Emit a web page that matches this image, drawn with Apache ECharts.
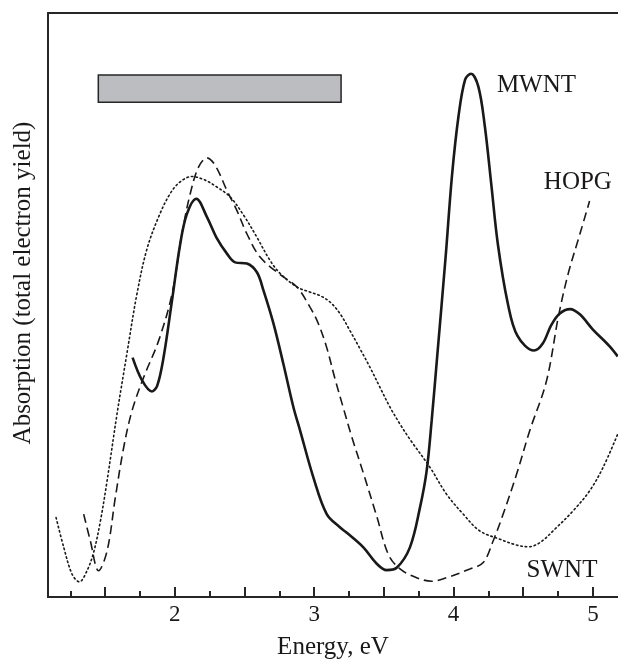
<!DOCTYPE html>
<html>
<head>
<meta charset="utf-8">
<script src="https://cdn.jsdelivr.net/npm/echarts@6/dist/echarts.min.js"></script>
<style>html,body{margin:0;padding:0;background:#fff}#c{width:618px;height:662px}</style>
</head>
<body>
<div id="c"></div>
<script>
// ---- data (Energy eV, absorption arbitrary units 0..100) ----
const mwntX = [1.697,1.767,1.836,1.874,1.919,1.980,2.039,2.087,2.154,2.230,2.302,2.374,2.433,2.517,2.589,2.636,2.708,2.779,2.851,2.899,2.994,3.090,3.186,3.234,3.353,3.449,3.520,3.592,3.687,3.759,3.807,3.843,3.884,3.943,3.989,4.036,4.083,4.125,4.178,4.224,4.271,4.318,4.389,4.459,4.577,4.640,4.700,4.760,4.836,4.906,5.000,5.117,5.178];
const mwntY = [41.0,37.0,35.2,36.2,41.0,50.8,60.5,65.6,68.2,65.1,61.4,58.8,57.3,57.1,55.6,52.5,46.8,39.9,32.5,28.5,20.5,14.2,11.9,11.0,8.5,5.7,4.6,5.0,8.5,15.3,21.6,30.2,41.6,58.2,72.2,82.4,88.6,89.6,87.4,80.7,70.6,60.4,50.3,44.7,42.2,43.4,46.5,48.5,49.3,48.4,45.8,43.0,41.2];

const hopgX = [1.346,1.394,1.453,1.514,1.573,1.633,1.693,1.776,1.884,1.980,2.051,2.111,2.170,2.230,2.290,2.374,2.445,2.517,2.612,2.756,2.875,2.971,3.030,3.090,3.150,3.210,3.270,3.353,3.449,3.532,3.616,3.735,3.843,3.950,4.117,4.213,4.284,4.356,4.452,4.547,4.667,4.753,4.823,4.906,4.976];
const hopgY = [14.2,9.6,4.5,7.9,17.0,25.6,31.9,37.6,43.9,51.9,62.2,69.1,73.6,75.2,73.9,69.6,66.2,62.2,58.2,55.2,53.1,49.6,46.8,42.7,37.3,32.3,27.4,21.2,13.8,7.3,4.8,3.3,2.7,3.3,4.8,5.9,9.6,14.2,21.0,28.5,37.0,48.1,55.4,62.1,67.8];

const swntX = [1.148,1.203,1.263,1.315,1.370,1.418,1.466,1.514,1.585,1.657,1.729,1.800,1.884,1.967,2.039,2.123,2.206,2.302,2.397,2.493,2.589,2.684,2.756,2.875,2.971,3.042,3.114,3.186,3.257,3.329,3.401,3.472,3.544,3.616,3.687,3.831,3.950,4.069,4.189,4.332,4.452,4.535,4.619,4.739,4.858,4.977,5.073,5.178];
const swntY = [13.6,8.5,3.9,2.6,4.5,7.7,13.0,19.9,31.3,41.8,52.0,59.6,65.1,69.1,71.1,72.0,71.5,70.2,68.5,65.4,61.6,57.6,55.4,53.1,52.2,51.6,50.5,48.5,45.6,42.5,39.3,35.9,32.5,29.6,27.0,22.2,17.6,14.2,11.3,9.9,8.9,8.6,9.3,11.9,14.75,18.2,22.2,27.9];

// energy range bar (x from, x to, y bottom, y top)
const barRange = [1.451, 3.193, 84.7, 89.4];

// curve labels
const labelNames = ['MWNT', 'HOPG', 'SWNT'];
const labelX = [4.311, 4.648, 4.524];
const labelY = [87.6, 71.0, 4.6];

// axis ticks
const majorTicks = [1.5, 2, 2.5, 3, 3.5, 4, 4.5, 5];
const minorTicks = [1.25, 1.75, 2.25, 2.75, 3.25, 3.75, 4.25, 4.75];
const tickLabels = [2, 3, 4, 5];

const xMin = 1.09, xMax = 5.18;
const FONT = '"Liberation Serif", "DejaVu Serif", serif';
const INK = '#1a1819';
const AX = '#262626';

function pairs(xs, ys) { return xs.map((x, i) => [x, ys[i]]); }

function tickAxis(gridIndex, values, len) {
  return {
    gridIndex, type: 'value', min: xMin, max: xMax, position: 'bottom',
    axisLine: { show: true, onZero: false, lineStyle: { color: AX, width: 2 } },
    axisTick: { show: true, inside: true, length: len, customValues: values, lineStyle: { color: AX, width: 2 } },
    axisLabel: { show: false }, splitLine: { show: false }
  };
}

const gridBox = { left: 48, right: 0, top: 13, bottom: 65, containLabel: false, outerBoundsMode: 'none' };

const chart = echarts.init(document.getElementById('c'), null, { renderer: 'canvas' });
chart.setOption({
  backgroundColor: '#fff',
  animation: false,
  grid: [Object.assign({}, gridBox), Object.assign({}, gridBox)],
  xAxis: [
    {
      gridIndex: 0, type: 'value', min: xMin, max: xMax, position: 'bottom',
      name: 'Energy, eV', nameLocation: 'middle', nameGap: 38,
      nameTextStyle: { fontFamily: FONT, fontSize: 25, color: INK },
      axisLine: { show: true, onZero: false, lineStyle: { color: AX, width: 2 } },
      axisTick: { show: false },
      axisLabel: { show: true, customValues: tickLabels, margin: 6, fontFamily: FONT, fontSize: 23, color: INK },
      splitLine: { show: false }
    },
    {
      gridIndex: 0, type: 'value', min: xMin, max: xMax, position: 'top',
      axisLine: { show: true, onZero: false, lineStyle: { color: AX, width: 2 } },
      axisTick: { show: false }, axisLabel: { show: false }, splitLine: { show: false }
    },
    tickAxis(0, majorTicks, 10),
    tickAxis(1, minorTicks, 6)
  ],
  yAxis: [
    {
      gridIndex: 0, type: 'value', min: 0, max: 100,
      name: 'Absorption (total electron yield)', nameLocation: 'middle', nameGap: 12, nameRotate: 90,
      nameTextStyle: { fontFamily: FONT, fontSize: 25, color: INK, padding: [0, 0, 0, 44] },
      axisLine: { show: true, onZero: false, lineStyle: { color: AX, width: 2 } },
      axisTick: { show: false }, axisLabel: { show: false }, splitLine: { show: false }
    },
    {
      gridIndex: 1, type: 'value', min: 0, max: 100,
      axisLine: { show: false }, axisTick: { show: false }, axisLabel: { show: false }, splitLine: { show: false }
    }
  ],
  series: [
    {
      name: 'SWNT', type: 'line', xAxisIndex: 0, yAxisIndex: 0, data: pairs(swntX, swntY),
      smooth: 0.35, showSymbol: false, silent: true,
      lineStyle: { color: INK, width: 1.6, type: [1.5, 3], cap: 'round' }
    },
    {
      name: 'HOPG', type: 'line', xAxisIndex: 0, yAxisIndex: 0, data: pairs(hopgX, hopgY),
      smooth: 0.35, showSymbol: false, silent: true,
      lineStyle: { color: INK, width: 1.6, type: [9, 5] }
    },
    {
      name: 'MWNT', type: 'line', xAxisIndex: 0, yAxisIndex: 0, data: pairs(mwntX, mwntY),
      smooth: 0.35, showSymbol: false, silent: true,
      lineStyle: { color: INK, width: 2.6 },
      markArea: {
        silent: true,
        itemStyle: { color: '#bcbdc0', borderColor: AX, borderWidth: 1.5 },
        label: { show: false },
        data: [[{ coord: [barRange[0], barRange[3]] }, { coord: [barRange[1], barRange[2]] }]]
      }
    },
    {
      name: 'labels', type: 'scatter', xAxisIndex: 0, yAxisIndex: 0, symbolSize: 0, silent: true,
      itemStyle: { opacity: 1 },
      data: labelNames.map((n, i) => ({ name: n, value: [labelX[i], labelY[i]] })),
      label: {
        show: true, position: 'right', distance: 0, formatter: p => p.name,
        fontFamily: FONT, fontSize: 25, color: INK, opacity: 1
      }
    }
  ]
});
</script>
</body>
</html>
